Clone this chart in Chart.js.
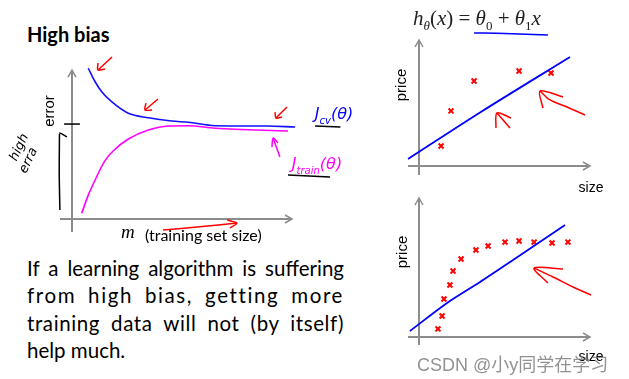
<!DOCTYPE html>
<html><head><meta charset="utf-8">
<script src="https://cdn.jsdelivr.net/npm/chart.js@4.4.1/dist/chart.umd.min.js"></script>
<style>
html,body{margin:0;padding:0;background:#fff;width:629px;height:379px;overflow:hidden;position:relative}
canvas{position:absolute}
.t{position:absolute;white-space:nowrap;line-height:1}
.c{transform:translate(-50%,-50%)}
.r{transform:translate(-50%,-50%) rotate(-90deg)}
.para div{text-align:justify;text-align-last:justify;width:317px;height:27.3px;line-height:27.3px;white-space:normal}
.para div.last{text-align-last:left}
</style></head><body>

<div class="t" style="left:27px;top:22px;font:bold 20px Lato;color:#000">High bias</div>
<div class="t para" style="left:27px;top:255px;font:20.5px Lato;color:#000;white-space:normal">
<div>If a learning algorithm is suffering</div>
<div style="letter-spacing:1.6px">from high bias, getting more</div>
<div style="letter-spacing:0.6px">training data will not (by itself)</div>
<div class="last">help much.</div>
</div>

<canvas id="c1" width="380" height="250" style="left:0;top:0;width:380px;height:250px"></canvas>
<canvas id="c2" width="249" height="200" style="left:380px;top:0;width:249px;height:200px"></canvas>
<canvas id="c3" width="249" height="189" style="left:380px;top:190px;width:249px;height:189px"></canvas>

<div class="t r" style="left:48px;top:111px;font:15px 'Liberation Sans';color:#000">error</div>
<div class="t" style="left:10px;top:147px;font:italic 13px 'DejaVu Sans';transform:translate(-20%,-50%) rotate(-65deg);color:#000">high</div>
<div class="t" style="left:17px;top:160px;font:italic 13px 'DejaVu Sans';transform:translate(-10%,-50%) rotate(-65deg);color:#000">erra</div>
<div class="t" style="left:121px;top:221px;font:italic 19px 'Liberation Serif';color:#000">m</div>
<div class="t" style="left:145px;top:225px;font:16px Lato;color:#000">(training set size)</div>
<div class="t c" style="left:334px;top:115px;font:italic 16px 'DejaVu Sans';color:#0000ff">J<sub style="font-size:10px">cv</sub>(θ)</div>
<div class="t c" style="left:317px;top:165px;font:italic 16px 'DejaVu Sans';color:#ff00ff">J<sub style="font-size:10px">train</sub>(θ)</div>

<div class="t c" style="left:477px;top:20px;font:21px 'Liberation Serif';color:#222"><i>h</i><sub style="font-size:13px"><i>θ</i></sub>(<i>x</i>) = <i>θ</i><sub style="font-size:13px">0</sub> + <i>θ</i><sub style="font-size:13px">1</sub><i>x</i></div>
<div class="t r" style="left:400px;top:85px;font:15px 'Liberation Sans';color:#000">price</div>
<div class="t c" style="left:591px;top:187px;font:14px 'Liberation Sans';color:#000">size</div>
<div class="t r" style="left:401px;top:252px;font:15px 'Liberation Sans';color:#000">price</div>
<div class="t c" style="left:591px;top:356px;font:14px 'Liberation Sans';color:#000">size</div>
<div class="t" style="left:417px;top:350px;font:18px 'Liberation Sans','Noto Sans CJK SC';color:rgba(110,110,110,0.75)">CSDN @小y同学在学习</div>

<script>
// ---------- Left panel: learning curves (m vs error) ----------
const cvX    = [7.4, 10.5, 13.5, 18, 25.6, 34.7, 45.3, 52.9, 65, 88.6, 101.4];
const cvY    = [100.5, 91.5, 84.9, 78.2, 70.5, 67.5, 65.3, 64.5, 62.2, 62, 61.3];
const trainX = [4.4, 7.4, 10.5, 15, 18.8, 25.6, 34.7, 43.8, 52.9, 65, 98.2];
const trainY = [3.8, 15.9, 26, 38.9, 45.5, 53.3, 59.3, 62, 62.2, 60.5, 58.7];
const highErrorLevel = 63.3;

// ---------- Top right: linear fit on a few points ----------
const topSizeX  = [12.9, 18.7, 32.2, 58.5, 77.2];
const topPriceY = [15.9, 43.7, 67.5, 75.4, 73.8];
const topFitX   = [-6.4, 35.7, 88.3];
const topFitY   = [5.6, 42.5, 86.5];

// ---------- Bottom right: linear fit on many points ----------
const botSizeX  = [11.1, 13.5, 14.6, 18.1, 19.9, 24.6, 33.3, 40.4, 50.3, 58.5, 67.3, 77.8, 87.1];
const botPriceY = [5.8, 15.1, 27.3, 37.4, 47.5, 56.1, 62.6, 65.5, 68.3, 69.1, 68.3, 67.6, 68.3];
const botFitX   = [-5.3, 16.4, 35.7, 55, 85.4];
const botFitY   = [4.3, 24.5, 39.6, 55.4, 80.6];

// ---------- Hand-drawn annotation strokes (data units) ----------
const leftStrokes = [
  {x:[18.2,11.8], y:[108,99.3], c:'#ff0000'},
  {x:[11.8,11.8,15], y:[104,99.3,100], c:'#ff0000'},
  {x:[39.1,33.2], y:[80,72.7], c:'#ff0000'},
  {x:[33.6,33.2,36.4], y:[77.3,72.7,72.7], c:'#ff0000'},
  {x:[97.7,92.7], y:[74.7,67.3], c:'#ff0000'},
  {x:[92.3,92.7,95.5], y:[71.3,67.3,68], c:'#ff0000'},
  {x:[41.4,58,75], y:[-7.3,-5.2,-2.7], c:'#ff0000'},
  {x:[70.5,75,71.8], y:[-0.7,-2.7,-6], c:'#ff0000'},
  {x:[94.5,91.4], y:[41.3,54], c:'#ff00ff'},
  {x:[90.9,91.4,93.6], y:[48,54,50.7], c:'#ff00ff'},
  {x:[-5.5,-5.8,-5.7], y:[6,30,56.7], c:'#000000'},
  {x:[-7.7,-5.8,-2.3], y:[54,57.3,54.7], c:'#000000'},
  {x:[-3.6,3.6], y:[highErrorLevel,highErrorLevel], c:'#000000'},
  {x:[110.5,122], y:[62,61.3], c:'#000000'},
  {x:[98.2,117.3], y:[29.3,28], c:'#000000'}
];
const topStrokes = [
  {x:[97.1,86.5,76.6,70.8], y:[40.5,46.8,52.4,59.5], c:'#ff0000'},
  {x:[72.5,70.8,84.2], y:[46,59.5,54.8], c:'#ff0000'},
  {x:[53.2,45.6], y:[30.2,42.1], c:'#ff0000'},
  {x:[45,45.6,53.8], y:[30.2,42.1,38.1], c:'#ff0000'},
  {x:[32.2,50,75.4], y:[105.6,105.2,104], c:'#0000ff'}
];
const botStrokes = [
  {x:[100.6,90.1,78.4,67.3], y:[30.2,36,43.2,49.6], c:'#ff0000'},
  {x:[84.2,67.3,75.4], y:[48.9,49.6,38.8], c:'#ff0000'}
];

const pts = (xs, ys) => xs.map((x, i) => ({x, y: ys[i]}));
const line = (xs, ys, color, w, tension, mono) => ({
  data: pts(xs, ys), showLine: true, pointRadius: 0, borderColor: color,
  borderWidth: w, tension: tension || 0, clip: false, fill: false,
  cubicInterpolationMode: mono ? 'monotone' : 'default'
});
const strokes = arr => arr.map(s => line(s.x, s.y, s.c, 1.5, 0.3));

const arrowAxes = {
  id: 'arrowAxes',
  beforeDatasetsDraw(chart, args, o) {
    const {ctx, scales: {x, y}} = chart;
    const x0 = x.getPixelForValue(0), y0 = y.getPixelForValue(0);
    const xa = x.getPixelForValue(o.xFrom), xb = x.getPixelForValue(o.xTo);
    const ya = y.getPixelForValue(o.yFrom), yb = y.getPixelForValue(o.yTo);
    ctx.save();
    ctx.strokeStyle = '#8c8c8c'; ctx.lineWidth = 2; ctx.lineCap = 'butt';
    ctx.beginPath();
    ctx.moveTo(xa, y0); ctx.lineTo(xb, y0);
    ctx.moveTo(x0, ya); ctx.lineTo(x0, yb);
    ctx.stroke();
    ctx.lineWidth = 1.5;
    ctx.beginPath();
    ctx.moveTo(xb - 7, y0 - 4); ctx.lineTo(xb, y0); ctx.lineTo(xb - 7, y0 + 4);
    ctx.moveTo(x0 - 4, yb + 7); ctx.lineTo(x0, yb); ctx.lineTo(x0 + 4, yb + 7);
    ctx.stroke();
    ctx.restore();
  }
};

function make(id, datasets, pad, axes) {
  return new Chart(document.getElementById(id), {
    type: 'scatter',
    data: { datasets },
    options: {
      responsive: false, animation: false, devicePixelRatio: 1,
      layout: { padding: pad },
      scales: {
        x: { type: 'linear', min: 0, max: 100, display: false },
        y: { type: 'linear', min: 0, max: 100, display: false }
      },
      plugins: { legend: { display: false }, tooltip: { enabled: false }, arrowAxes: axes }
    },
    plugins: [arrowAxes]
  });
}

const cross = (xs, ys) => ({
  data: pts(xs, ys), showLine: false, pointStyle: 'crossRot', pointRadius: 3.5,
  borderColor: '#ff0000', borderWidth: 2, clip: false
});

make('c1', [
  line(cvX, cvY, '#1010ff', 1.6, 0.4, true),
  line(trainX, trainY, '#ff00ff', 1.6, 0.4, true),
  ...strokes(leftStrokes)
], {left: 72, right: 88, top: 69, bottom: 31}, {xFrom: -5.5, xTo: 100, yFrom: -8.7, yTo: 99.3});

make('c2', [
  line(topFitX, topFitY, '#0000ff', 1.8, 0.3),
  cross(topSizeX, topPriceY),
  ...strokes(topStrokes)
], {left: 39, right: 39, top: 40, bottom: 34}, {xFrom: -6.4, xTo: 100, yFrom: -7.1, yTo: 100});

make('c3', [
  line(botFitX, botFitY, '#0000ff', 1.8, 0.3),
  cross(botSizeX, botPriceY),
  ...strokes(botStrokes)
], {left: 39, right: 39, top: 8, bottom: 42}, {xFrom: -6.4, xTo: 100, yFrom: -5.8, yTo: 100});
</script>
</body></html>
